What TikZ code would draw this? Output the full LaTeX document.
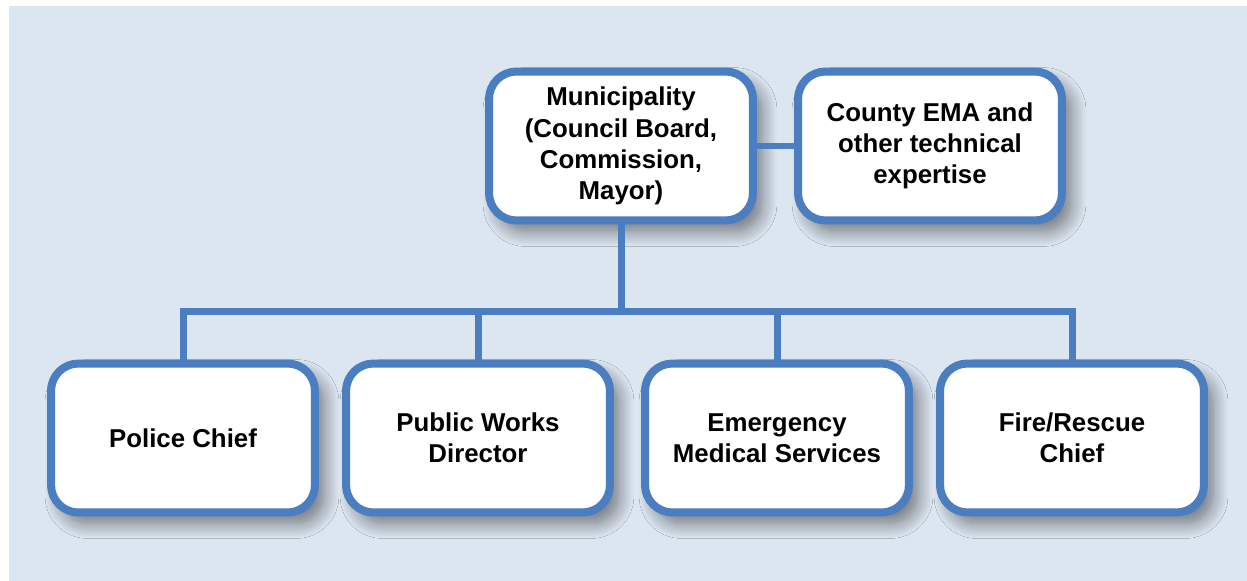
\documentclass[tikz,border=0pt]{standalone}
\usepackage{fontspec}
\setmainfont{Liberation Sans}
\usetikzlibrary{shadows.blur}
\definecolor{orgblue}{RGB}{74,126,192}
\definecolor{orgback}{RGB}{220,230,241}

\begin{document}
\begin{tikzpicture}[x=0.02cm,y=-0.02cm,
  orgbox/.style={draw=orgblue,line width=0.16cm,fill=white,rounded corners=0.55cm,
    minimum width=5.28cm,minimum height=2.98cm,align=center,
    font=\fontsize{14.7}{17.8}\selectfont\bfseries,
    blur shadow={shadow xshift=0.18cm,shadow yshift=-0.22cm,shadow blur radius=0.3cm,
      shadow blur steps=12,shadow opacity=50}},
  link/.style={draw=orgblue,line width=0.14cm}]

% Background
\useasboundingbox (0,0) rectangle (1247,581);
\fill[white] (0,0) rectangle (1247,581);
\fill[orgback] (9,6) rectangle (1247,581);

% Top row
\node (muni) at (621,146) [orgbox] {Municipality\\(Council Board,\\Commission,\\Mayor)};
\node (county) at (930,146) [orgbox] {County EMA and\\other technical\\expertise};

% Bottom row
\node (police) at (183,438) [orgbox] {Police Chief};
\node (public) at (478,438) [orgbox] {Public Works\\Director};
\node (ems) at (777,438) [orgbox] {Emergency\\Medical Services};
\node (fire) at (1072,438) [orgbox] {Fire/Rescue\\Chief};

% Connectors
\coordinate (bus) at (623,311);
\draw[link] (muni.east) -- (county.west);
\draw[link] (muni.south) -- (muni.south |- bus);
\draw[link] (police.north) -- (police.north |- bus) -- (fire.north |- bus) -- (fire.north);
\draw[link] (public.north) -- (public.north |- bus);
\draw[link] (ems.north) -- (ems.north |- bus);

\end{tikzpicture}
\end{document}
